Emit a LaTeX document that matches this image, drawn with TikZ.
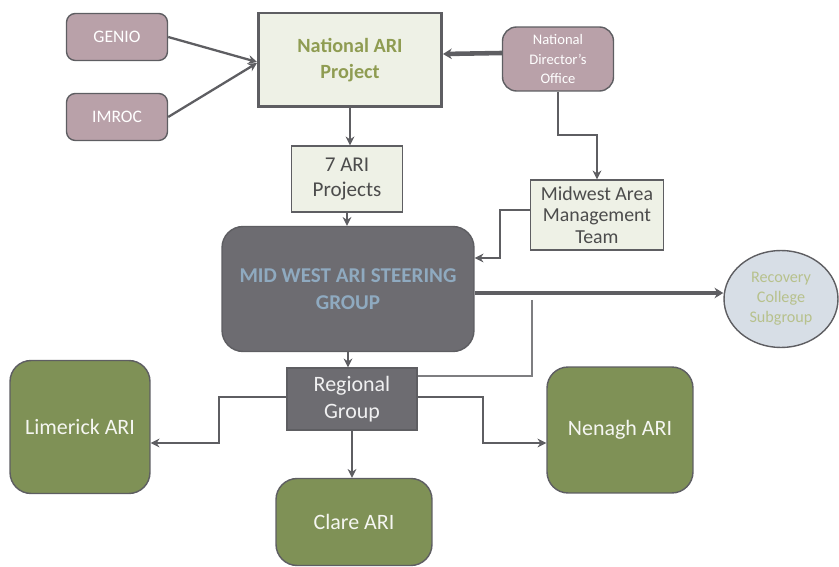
\documentclass[tikz,border=0pt]{standalone}
\usepackage{fontspec}
\setmainfont{Carlito}
\usetikzlibrary{arrows.meta,positioning,shapes.geometric}
\definecolor{edge}{HTML}{5E5E62}
\definecolor{mauve}{HTML}{B9A1A9}
\definecolor{pale}{HTML}{EEF1E6}
\definecolor{slate}{HTML}{6D6C71}
\definecolor{olive}{HTML}{7F9156}
\definecolor{mist}{HTML}{D7DEE6}
\definecolor{khaki}{HTML}{8F9C52}
\definecolor{steel}{HTML}{8FAAC0}
\definecolor{sage}{HTML}{B7C18C}
\tikzset{
  pill/.style  ={draw=edge,line width=0.8pt,rounded corners=5pt,fill=mauve,text=white,align=center},
  pale/.style  ={draw=edge,line width=0.8pt,fill=pale,text=black!70,align=center},
  dark/.style  ={draw=edge,line width=0.8pt,fill=slate,align=center},
  site/.style  ={draw=edge,line width=0.8pt,rounded corners=12pt,fill=olive,text=white!92!olive,
                 font=\fontsize{12.5}{15}\selectfont,align=center},
  ar/.style    ={draw=edge,line width=1.3pt,-{Stealth[length=5pt,width=5pt]}},
  fat/.style   ={draw=edge,line width=2.6pt,-{Stealth[length=5pt,width=6pt]}},
  wire/.style  ={draw=edge!80,line width=0.6pt},
}
\begin{document}
\begin{tikzpicture}[x=0.02cm,y=-0.02cm]
  \useasboundingbox (0,0) rectangle (839,567);
  % top row
  \node[pill,minimum width=2.02cm,minimum height=0.94cm,font=\fontsize{10}{12}\selectfont] (genio) at (117,37) {GENIO};
  \node[pill,minimum width=2.02cm,minimum height=0.94cm,font=\fontsize{10}{12}\selectfont] (imroc) at (117,117) {IMROC};
  \node[pale,line width=1.7pt,minimum width=3.66cm,minimum height=1.88cm,text=khaki,
        font=\fontsize{11.5}{14.5}\selectfont\bfseries] (nat) at (350,60) {National ARI\\Project};
  \node[pill,rounded corners=8pt,minimum width=2.22cm,minimum height=1.28cm,
        font=\fontsize{8.3}{11}\selectfont] (ndo) at (558,59) {National\\Director's\\Office};
  % middle
  \node[pale,minimum width=2.22cm,minimum height=1.32cm,font=\fontsize{12}{14.5}\selectfont] (seven) at (347,179) {7 ARI\\Projects};
  \node[pale,minimum width=2.66cm,minimum height=1.4cm,font=\fontsize{11.3}{12.3}\selectfont] (mamt) at (597,215) {Midwest Area\\Management\\Team};
  \node[dark,rounded corners=12pt,minimum width=5.04cm,minimum height=2.5cm,text=steel,
        font=\fontsize{12}{15}\selectfont\bfseries] (steer) at (348,289) {MID WEST ARI STEERING\\GROUP};
  \node[ellipse,draw=edge,line width=0.8pt,fill=mist,text=sage,align=center,minimum width=2.28cm,
        minimum height=1.94cm,inner sep=1pt,font=\fontsize{9.2}{11.3}\selectfont] (rcs) at (781,299) {Recovery\\College\\Subgroup};
  % bottom
  \node[dark,text=white!90!slate,minimum width=2.6cm,minimum height=1.24cm,
        font=\fontsize{12.5}{15}\selectfont] (reg) at (352,399) {Regional\\Group};
  \node[site,minimum width=2.8cm,minimum height=2.66cm] (lim) at (80,427) {Limerick ARI};
  \node[site,minimum width=3.12cm,minimum height=1.74cm] (clare) at (354,522) {Clare ARI};
  \node[site,minimum width=2.92cm,minimum height=2.52cm] (nen) at (620,430) {Nenagh ARI};
  % bends
  \coordinate (k1) at (580,135);
  \coordinate (k2) at (500,258);
  \coordinate (k3) at (532,300);
  \coordinate (k4) at (532,376);
  \coordinate (k5) at (219,443);
  \coordinate (k6) at (483,443);
  % connectors
  \draw[ar] (genio.east) -- ([yshift=-0.04cm]nat.west);
  \draw[ar] (imroc.east) -- ([yshift=-0.06cm]nat.west);
  \draw[fat] ([yshift=0.12cm]ndo.west) -- ([yshift=0.12cm]nat.east);
  \draw[ar] (ndo.south) |- (k1) -| (mamt.north);
  \draw[ar] (nat.south) -- (nat.south |- seven.north);
  \draw[ar] (seven.south) -- (seven.south |- steer.north);
  \draw[ar] ([yshift=0.1cm]mamt.west) -| (k2) -- (k2 -| steer.east);
  \draw[fat] ([yshift=-0.08cm]steer.east) -- ([yshift=-0.08cm]steer.east -| rcs.west);
  \draw[wire] (k3) -- (k4) -- (k4 -| reg.east);
  \draw[ar] (steer.south) -- (steer.south |- reg.north);
  \draw[ar] ([yshift=0.04cm]reg.west) -| (k5) -- (k5 -| lim.east);
  \draw[ar] ([yshift=0.04cm]reg.east) -| (k6) -- (k6 -| nen.west);
  \draw[ar] (reg.south) -- (reg.south |- clare.north);
\end{tikzpicture}
\end{document}
